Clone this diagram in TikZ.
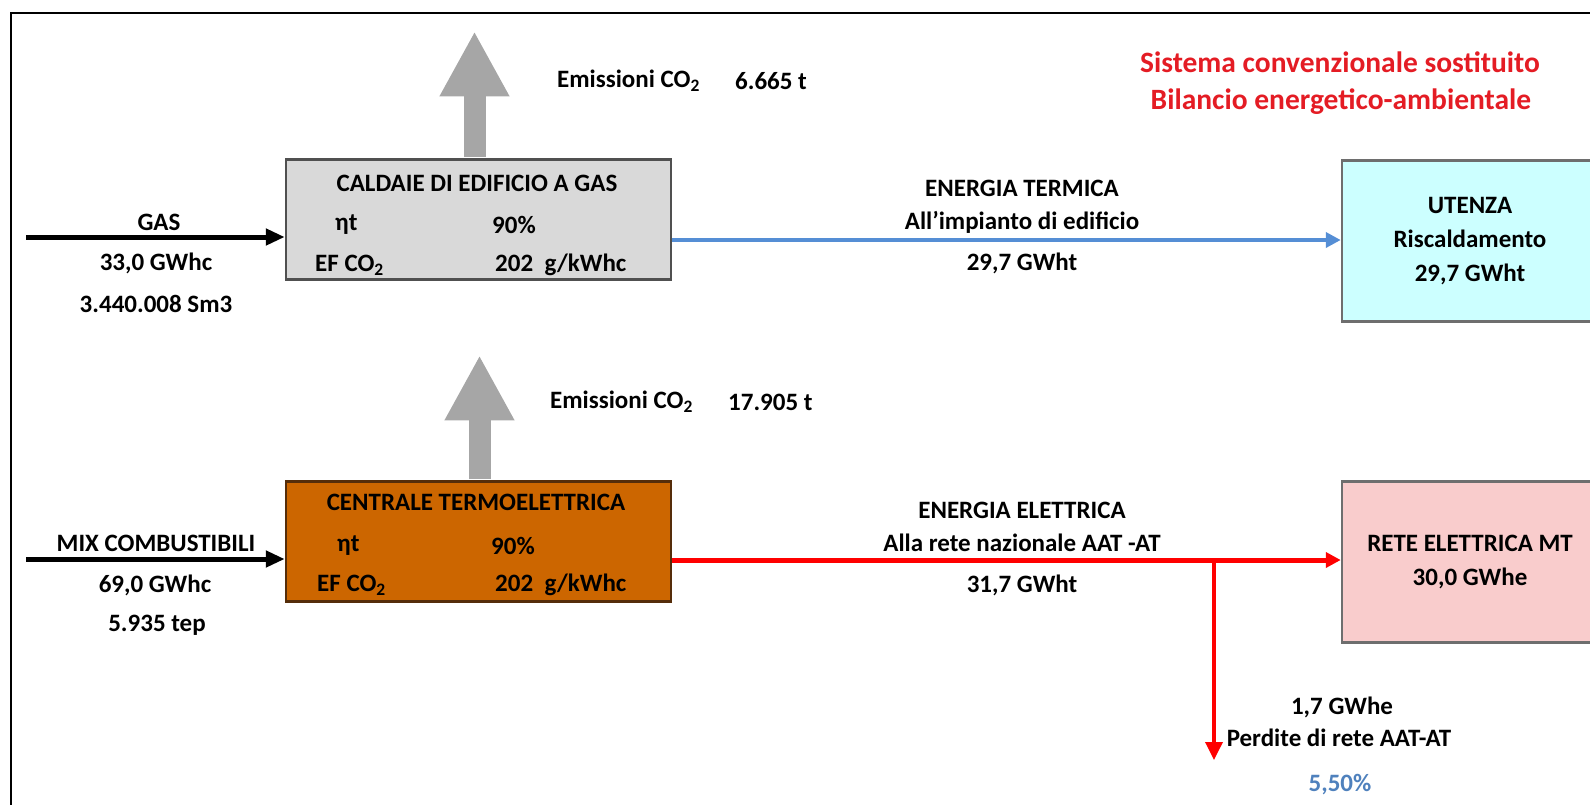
\documentclass[tikz,border=0pt]{standalone}
\usepackage{fontspec}
\setmainfont{Carlito}
\usetikzlibrary{arrows.meta, positioning, calc}
\definecolor{boxgray}{RGB}{217,217,217}
\definecolor{boxline}{RGB}{80,80,80}
\definecolor{plantorange}{RGB}{204,102,0}
\definecolor{plantline}{RGB}{85,45,10}
\definecolor{usercyan}{RGB}{204,255,255}
\definecolor{userpink}{RGB}{249,204,204}
\definecolor{userline}{RGB}{110,110,110}
\definecolor{co2gray}{RGB}{166,166,166}
\definecolor{flowblue}{RGB}{85,142,213}
\definecolor{titlered}{RGB}{228,28,36}
\definecolor{lossblue}{RGB}{79,129,189}

\begin{document}
\begin{tikzpicture}[x=1pt, y=-1pt,
    lbl/.style={font=\fontsize{25}{34}\selectfont\bfseries, inner sep=0pt, align=center},
    plant/.style={draw=#1, line width=2.5pt, minimum width=385pt, minimum height=120pt, inner sep=0pt},
    user/.style={lbl, draw=userline, line width=2.5pt, minimum width=256pt, minimum height=161pt},
    fuel/.style={-{Triangle[length=19pt, width=16pt]}, line width=5pt},
    emis/.style={-{Triangle[length=65pt, width=65pt]}, line width=22pt, draw=co2gray, shorten <=1.5pt},
    flow/.style={-{Triangle[length=15pt, width=15pt]}, line width=#1}]
    \useasboundingbox (0,0) rectangle (1590,804);
    \draw[line width=2pt] (1600,13) -- (11,13) -- (11,810);

    % Title
    \node[lbl, text=titlered, font=\fontsize{29.5}{34}\selectfont\bfseries] (title1) at (1340,62) {Sistema convenzionale sostituito};
    \node[lbl, text=titlered, font=\fontsize{29.5}{34}\selectfont\bfseries] (title2) at (1341,102) {Bilancio energetico-ambientale};

    % Boilers
    \node[plant=boxline, fill=boxgray] (caldaie) at (478.5,219.5) {};
    \node[lbl] (caldaiename) at (477,183) {CALDAIE DI EDIFICIO A GAS};
    \node[lbl, anchor=west] (caldaieeta) at (335,225) {ηt};
    \node[lbl, anchor=west] (caldaieetav) at (492,225) {90\%};
    \node[lbl, anchor=west] (caldaieef) at (315,265) {EF CO\textsubscript{2}};
    \node[lbl, anchor=west] (caldaieefv) at (495,265) {202\ \ g/kWhc};

    \coordinate (gasin) at (26,237);
    \draw[fuel] (gasin) -- (gasin -| caldaie.west);
    \node[lbl] (gasname) at (159,222) {GAS};
    \node[lbl] (gasgwh) at (156,263) {33,0 GWhc};
    \node[lbl] (gassm) at (156,304) {3.440.008 Sm3};

    \draw[emis] ([xshift=-4pt]caldaie.north) -- ++(0,-127);
    \node[lbl, anchor=west] (caldaieco) at (557,81) {Emissioni CO\textsubscript{2}};
    \node[lbl, anchor=west] (caldaiecov) at (735,81) {6.665 t};

    % Power plant
    \node[plant=plantline, fill=plantorange] (centrale) at (478.5,541.5) {};
    \node[lbl] (centralename) at (476,502) {CENTRALE TERMOELETTRICA};
    \node[lbl, anchor=west] (centraleeta) at (337,546) {ηt};
    \node[lbl, anchor=west] (centraleetav) at (491,546) {90\%};
    \node[lbl, anchor=west] (centraleef) at (317,585) {EF CO\textsubscript{2}};
    \node[lbl, anchor=west] (centraleefv) at (495,585) {202\ \ g/kWhc};

    \coordinate (mixin) at (26,559);
    \draw[fuel] (mixin) -- (mixin -| centrale.west);
    \node[lbl] (mixname) at (156,543) {MIX COMBUSTIBILI};
    \node[lbl] (mixgwh) at (155,585) {69,0 GWhc};
    \node[lbl] (mixtep) at (157,625) {5.935 tep};

    \draw[emis] ([xshift=1pt]centrale.north) -- ++(0,-125);
    \node[lbl, anchor=west] (centraleco) at (550,402) {Emissioni CO\textsubscript{2}};
    \node[lbl, anchor=west] (centralecov) at (728,402) {17.905 t};

    % Users
    \node[user, fill=usercyan] (utenza) at (1470,241) {UTENZA\\Riscaldamento\\29,7 GWht};
    \node[user, fill=userpink] (rete) at (1470,562) {RETE ELETTRICA MT\\30,0 GWhe};

    % Thermal energy
    \draw[flow=4pt, flowblue] (caldaie.east |- 0,240) -- (utenza.west |- 0,240);
    \node[lbl] (termname) at (1022,188) {ENERGIA TERMICA};
    \node[lbl] (termsub) at (1022,222) {All'impianto di edificio};
    \node[lbl] (termgwh) at (1022,263) {29,7 GWht};

    % Electric energy
    \coordinate (split) at (1214,560);
    \draw[flow=5pt, red] (centrale.east |- split) -- (rete.west |- split);
    \draw[-{Triangle[length=18pt, width=17pt]}, line width=3.5pt, red] (split) -- ++(0,200);
    \node[lbl] (elename) at (1022,510) {ENERGIA ELETTRICA};
    \node[lbl] (elesub) at (1022,543) {Alla rete nazionale AAT -AT};
    \node[lbl] (elegwh) at (1022,585) {31,7 GWht};

    % Losses
    \node[lbl] (lossgwh) at (1342,707) {1,7 GWhe};
    \node[lbl] (losstxt) at (1339,738) {Perdite di rete AAT-AT};
    \node[lbl, text=lossblue] (lossperc) at (1340,785) {5,50\%};
\end{tikzpicture}
\end{document}
